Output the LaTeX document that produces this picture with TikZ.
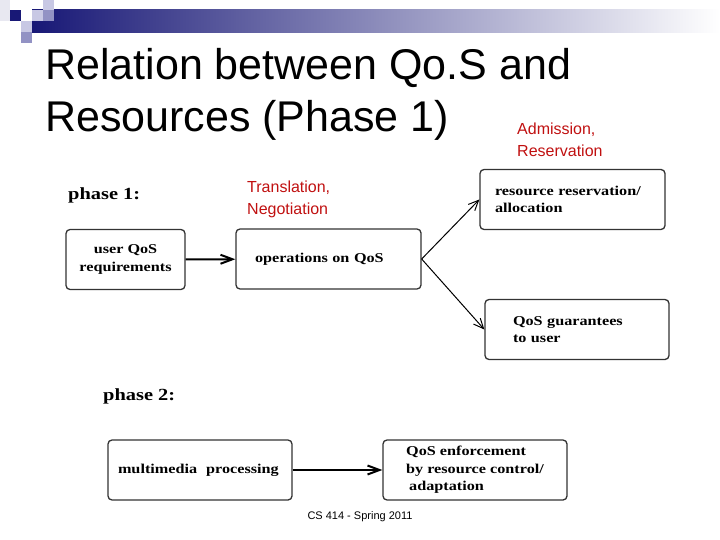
\documentclass[tikz,border=0pt]{standalone}
\usepackage{fontspec}
\setmainfont{Liberation Serif}
\setsansfont{Liberation Sans}
\newfontfamily\boxfont{Liberation Serif}[FakeStretch=1.2]
\usetikzlibrary{arrows.meta, positioning}

\definecolor{slidenavy}{RGB}{24,24,118}
\definecolor{slidelav}{RGB}{200,200,228}
\definecolor{slidemid}{RGB}{146,146,196}
\definecolor{slidered}{RGB}{192,16,16}

\begin{document}
\begin{tikzpicture}[x=1pt, y=-1pt,
    box/.style={draw=black!80, line width=1.3pt, rounded corners=4pt, minimum height=60pt, font=\boxfont\bfseries\fontsize{13.5}{17.5}\selectfont},
    redlbl/.style={text=slidered, font=\sffamily\fontsize{16}{22}\selectfont, align=left, inner sep=0pt},
    phaselbl/.style={font=\boxfont\bfseries\fontsize{17}{19}\selectfont, inner sep=0pt},
    flow/.style={-{Straight Barb[length=12pt, width=9pt]}, line width=2pt},
    split/.style={-{Straight Barb[length=10pt, width=9pt]}, line width=1pt}]
    \useasboundingbox (0,0) rectangle (720,540);

    % slide decoration
    \shade[left color=slidenavy, right color=white] (32,10) rectangle (720,33);
    \fill[slidenavy!10] (0,0) rectangle (10,21);
    \fill[slidenavy] (10,10) rectangle (21,21);
    \fill[slidelav] (21,21) rectangle (32,32);
    \fill[slidemid] (21,32) rectangle (32,43);
    \fill[slidelav] (32,10) rectangle (43,21);
    \fill[slidelav] (43,0) rectangle (54,10);
    \fill[slidemid] (43,10) rectangle (54,21);

    % title
    \node[anchor=base west, inner sep=0pt, font=\sffamily\fontsize{43}{52}\selectfont] (title1) at (45,80) {Relation between Qo.S and};
    \node[anchor=base west, inner sep=0pt, font=\sffamily\fontsize{43}{52}\selectfont] (title2) at (45,132) {Resources (Phase 1)};
    \node[redlbl, anchor=west] (adm) at (517,139.5) {Admission,\\Reservation};
    \node[redlbl, anchor=west] (trans) at (247,199) {Translation,\\Negotiation};

    % phase 1
    \node[phaselbl, anchor=west] (ph1) at (68,195) {phase 1:};
    \node[box, minimum width=119pt, align=center] (req) at (125.5,259.5) {user QoS\\requirements};
    \node[box, text width=147pt, inner xsep=19pt, align=left] (ops) at (328.5,259) {operations on QoS};
    \node[box, text width=155pt, inner xsep=15pt, align=left] (res) at (572.5,199.5) {resource reservation/\\allocation\\[-8pt]};
    \node[box, text width=128pt, inner xsep=28pt, align=left] (guar) at (577,329.5) {QoS guarantees\\to user};

    \draw[flow] (req) -- (ops);
    \draw[split] (ops.east) -- (res.west);
    \draw[split] (ops.east) -- (guar.west);

    % phase 2
    \node[phaselbl, anchor=west] (ph2) at (103,396) {phase 2:};
    \node[box, text width=164pt, inner xsep=10pt, align=left] (mm) at (200,470) {multimedia\ \ processing};
    \node[box, minimum width=184pt, align=left] (enf) at (475,470) {QoS enforcement\\by resource control/\\\hspace{3pt}adaptation};

    \draw[flow] (mm) -- (enf);

    \node[font=\sffamily\fontsize{11}{13}\selectfont] (foot) at (360,517) {CS 414 - Spring 2011};
\end{tikzpicture}
\end{document}
